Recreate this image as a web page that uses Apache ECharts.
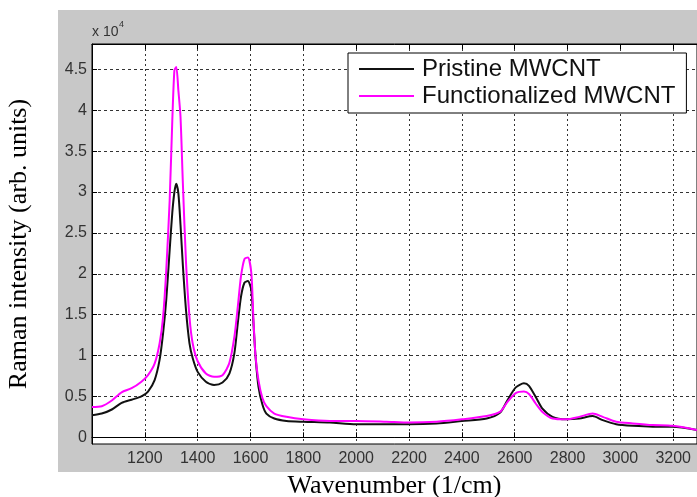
<!DOCTYPE html>
<html>
<head>
<meta charset="utf-8">
<script src="https://cdn.jsdelivr.net/npm/echarts@6/dist/echarts.min.js"></script>
<style>
html, body { margin: 0; padding: 0; background: #fff; }
#chart { width: 697px; height: 497px; }
</style>
</head>
<body>
<div id="chart"></div>
<script>
// wavenumber (1/cm)
var wavenumber = [1000, 1037, 1075, 1112, 1150, 1187, 1212, 1237, 1256, 1269, 1281, 1294, 1304, 1312, 1319, 1327, 1335, 1344, 1356, 1369, 1381, 1400, 1431, 1462, 1494, 1520, 1539, 1552, 1564, 1577, 1590, 1603, 1611, 1619, 1630, 1645, 1660, 1690, 1736, 1800, 1900, 2000, 2114, 2200, 2304, 2400, 2494, 2544, 2572, 2604, 2635, 2654, 2680, 2705, 2743, 2794, 2844, 2895, 2933, 2984, 3047, 3123, 3198, 3290];
// intensity, x 10^4
var pristine = [0.27, 0.29, 0.34, 0.42, 0.46, 0.50, 0.56, 0.70, 0.95, 1.27, 1.68, 2.29, 2.75, 3.00, 3.10, 2.98, 2.60, 2.10, 1.55, 1.15, 0.97, 0.80, 0.68, 0.64, 0.67, 0.78, 1.03, 1.40, 1.72, 1.89, 1.91, 1.80, 1.40, 0.99, 0.62, 0.40, 0.29, 0.23, 0.20, 0.19, 0.18, 0.16, 0.16, 0.16, 0.17, 0.20, 0.23, 0.30, 0.45, 0.61, 0.66, 0.63, 0.49, 0.35, 0.25, 0.22, 0.23, 0.26, 0.21, 0.16, 0.14, 0.13, 0.13, 0.09];
var functionalized = [0.37, 0.38, 0.45, 0.55, 0.60, 0.68, 0.76, 0.90, 1.15, 1.47, 2.04, 2.90, 3.88, 4.49, 4.53, 4.24, 3.92, 3.10, 2.13, 1.47, 1.15, 0.93, 0.78, 0.74, 0.76, 0.91, 1.23, 1.60, 1.97, 2.18, 2.20, 2.01, 1.45, 0.99, 0.70, 0.48, 0.38, 0.29, 0.25, 0.22, 0.20, 0.20, 0.19, 0.18, 0.19, 0.22, 0.26, 0.31, 0.43, 0.54, 0.56, 0.53, 0.41, 0.31, 0.23, 0.22, 0.25, 0.29, 0.25, 0.19, 0.17, 0.15, 0.14, 0.09];

var xTicks = [1200, 1400, 1600, 1800, 2000, 2200, 2400, 2600, 2800, 3000, 3200];
var yTicks = [0, 0.5, 1, 1.5, 2, 2.5, 3, 3.5, 4, 4.5];

function pairs(xs, ys) {
    var out = [];
    for (var i = 0; i < xs.length; i++) out.push([xs[i], ys[i]]);
    return out;
}

var myChart = echarts.init(document.getElementById('chart'));

var labelFont = { color: '#333', fontSize: 16, fontFamily: 'Liberation Sans' };

var option = {
    backgroundColor: '#fff',
    animation: false,
    graphic: [
        { type: 'rect', z: -100, silent: true, shape: { x: 58, y: 10, width: 639, height: 462 }, style: { fill: '#c8c8c8' } },
        { type: 'text', left: 92, top: 25, style: { text: 'x 10', fontSize: 14, fontFamily: 'Liberation Sans', fill: '#333' } },
        { type: 'text', left: 119, top: 20, style: { text: '4', fontSize: 9, fontFamily: 'Liberation Sans', fill: '#333' } }
    ],
    grid: {
        left: 92, top: 44, right: 0, bottom: 53,
        outerBoundsMode: 'none',
        containLabel: false,
        show: true,
        backgroundColor: '#fff',
        borderColor: '#000',
        borderWidth: 1
    },
    legend: {
        orient: 'vertical',
        left: 348, top: 53,
        padding: [4, 11, 5, 11],
        backgroundColor: '#fff',
        borderColor: '#000',
        borderWidth: 1,
        borderRadius: 0,
        icon: 'rect',
        itemWidth: 55,
        itemHeight: 2,
        itemGap: 3,
        textStyle: { fontSize: 24, fontFamily: 'Liberation Sans', color: '#111', lineHeight: 24, padding: [0, 0, 0, 3] },
        data: ['Pristine MWCNT', 'Functionalized MWCNT']
    },
    xAxis: [{
        type: 'value',
        min: 1000, max: 3290,
        position: 'bottom',
        name: 'Wavenumber (1/cm)',
        nameLocation: 'middle',
        nameGap: 29,
        nameTextStyle: { fontSize: 26, fontFamily: 'Liberation Serif', color: '#000' },
        axisLine: { show: true, lineStyle: { color: '#000', width: 1 } },
        axisTick: { show: true, inside: true, length: 5, customValues: xTicks, lineStyle: { color: '#000' } },
        axisLabel: { customValues: xTicks, margin: 7, formatter: function (v) { return String(v); }, ...labelFont },
        splitLine: { show: true, lineStyle: { color: '#333', width: 1, type: [2, 3] } }
    }, {
        type: 'value',
        min: 1000, max: 3290,
        position: 'top',
        axisLine: { show: true, lineStyle: { color: '#000', width: 1 } },
        axisTick: { show: true, inside: true, length: 5, customValues: xTicks, lineStyle: { color: '#000' } },
        axisLabel: { show: false },
        splitLine: { show: false }
    }],
    yAxis: {
        type: 'value',
        min: -0.082, max: 4.81,
        name: 'Raman intensity (arb. units)',
        nameLocation: 'middle',
        nameGap: 60,
        nameTextStyle: { fontSize: 26, fontFamily: 'Liberation Serif', color: '#000' },
        axisLine: { show: true, lineStyle: { color: '#000', width: 1 } },
        axisTick: { show: true, inside: true, length: 5, customValues: yTicks, lineStyle: { color: '#000' } },
        axisLabel: { customValues: yTicks, margin: 5, formatter: function (v) { return String(v); }, ...labelFont },
        splitLine: { show: true, lineStyle: { color: '#333', width: 1, type: [3, 3] } }
    },
    series: [{
        name: 'Pristine MWCNT',
        type: 'line',
        symbol: 'none',
        smooth: 0.25,
        color: '#111',
        lineStyle: { width: 2, color: '#111' },
        data: pairs(wavenumber, pristine)
    }, {
        name: 'Functionalized MWCNT',
        type: 'line',
        symbol: 'none',
        smooth: 0.25,
        color: '#ff00ff',
        lineStyle: { width: 2, color: '#ff00ff' },
        data: pairs(wavenumber, functionalized)
    }]
};

myChart.setOption(option);
</script>
</body>
</html>
